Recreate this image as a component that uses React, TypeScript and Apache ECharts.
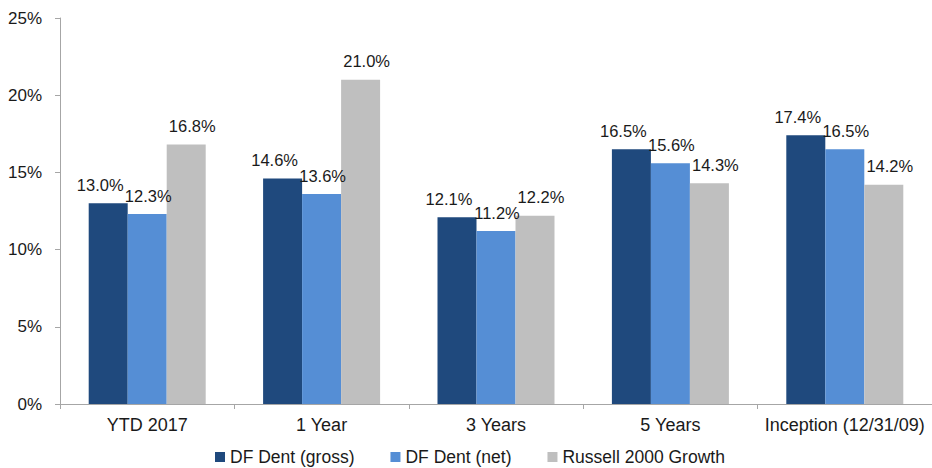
import React, { useEffect, useRef } from "react";
import * as echarts from "echarts";

const categories = ["YTD 2017", "1 Year", "3 Years", "5 Years", "Inception (12/31/09)"];
const grossValues = [13.0, 14.6, 12.1, 16.5, 17.4];
const netValues = [12.3, 13.6, 11.2, 15.6, 16.5];
const russellValues = [16.8, 21.0, 12.2, 14.3, 14.2];
const seriesNames = ["DF Dent (gross)", "DF Dent (net)", "Russell 2000 Growth"];
const yTicks = [0, 5, 10, 15, 20, 25];

const FONT = "'Liberation Sans', Arial, Helvetica, sans-serif";

export default function App() {
  const ref = useRef<HTMLDivElement>(null);
  useEffect(() => {
    if (!ref.current) return;
    const chart = echarts.init(ref.current, undefined, { renderer: "svg" });
    const label = (dx: number) => ({
      show: true,
      position: "top" as const,
      distance: 10,
      offset: [dx, 0],
      formatter: (p: any) => p.value.toFixed(1) + "%",
      color: "#1a1a1a",
      fontSize: 16.5,
      fontFamily: FONT,
    });
    const colors = ["#1F497D", "#558ED5", "#BFBFBF"];
    const values = [grossValues, netValues, russellValues];
    const offsets = [-8, 1, 6];
    chart.setOption({
      animation: false,
      textStyle: { fontFamily: FONT },
      grid: { left: 60, top: 18, right: -3, bottom: 64, containLabel: false },
      legend: {
        data: seriesNames,
        top: 448,
        left: 215,
        padding: 0,
        itemWidth: 10,
        itemHeight: 10,
        itemGap: 36,
        icon: "rect",
        textStyle: { fontSize: 17.5, color: "#1a1a1a", fontFamily: FONT },
      },
      xAxis: {
        type: "category",
        data: categories,
        axisLine: { lineStyle: { color: "#A6A6A6", width: 1 } },
        axisTick: { show: true, length: 5, alignWithLabel: false, lineStyle: { color: "#A6A6A6" } },
        axisLabel: { interval: 0, fontSize: 18, color: "#1a1a1a", margin: 12, fontFamily: FONT },
        splitLine: { show: false },
      },
      yAxis: {
        type: "value",
        min: yTicks[0],
        max: yTicks[yTicks.length - 1],
        interval: 5,
        axisLine: { show: true, lineStyle: { color: "#A6A6A6", width: 1 } },
        axisTick: { show: true, length: 5, lineStyle: { color: "#A6A6A6" } },
        axisLabel: { fontSize: 17, color: "#1a1a1a", margin: 18, formatter: "{value}%", fontFamily: FONT },
        splitLine: { show: false },
      },
      series: seriesNames.map((name, i) => ({
        name,
        type: "bar",
        data: values[i],
        barWidth: 39,
        barGap: "0%",
        itemStyle: { color: colors[i] },
        label: label(offsets[i]),
      })),
    });
    return () => chart.dispose();
  }, []);
  return <div ref={ref} style={{ width: 932, height: 468, position: "absolute", left: 0, top: 0 }} />;
}
